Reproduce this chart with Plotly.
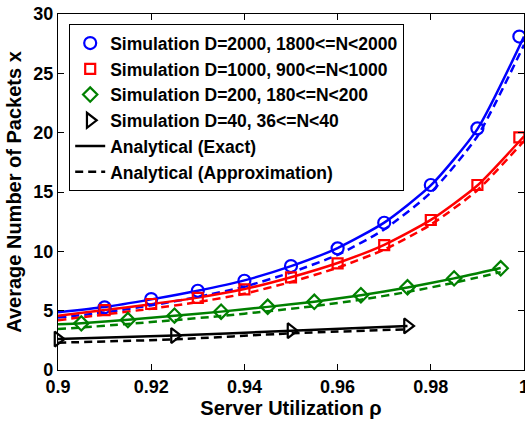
import plotly.graph_objects as go

# ---- data ----
rho_grid = [0.90, 0.91, 0.92, 0.93, 0.94, 0.95, 0.96, 0.97, 0.98, 0.99, 1.00]
rho_sim_blue = [0.91, 0.92, 0.93, 0.94, 0.95, 0.96, 0.97, 0.98, 0.99, 0.999]
sim_blue = [5.28, 5.98, 6.68, 7.52, 8.76, 10.25, 12.41, 15.59, 20.36, 28.1]
exact_blue = [4.86, 5.30, 5.95, 6.68, 7.55, 8.75, 10.28, 12.42, 15.55, 20.3, 28.1]
approx_blue = [4.42, 4.85, 5.45, 6.15, 7.02, 8.22, 9.70, 11.85, 14.95, 19.7, 27.4]

rho_sim_red = [0.91, 0.92, 0.93, 0.94, 0.95, 0.96, 0.97, 0.98, 0.99, 0.999]
sim_red = [5.05, 5.56, 6.07, 6.80, 7.81, 8.99, 10.53, 12.64, 15.59, 19.6]
exact_red = [4.58, 5.05, 5.55, 6.10, 6.82, 7.82, 9.02, 10.55, 12.65, 15.55, 19.7]
approx_red = [4.20, 4.68, 5.17, 5.72, 6.43, 7.42, 8.62, 10.15, 12.25, 15.15, 19.3]

rho_green = [0.900, 0.905, 0.915, 0.925, 0.935, 0.945, 0.955, 0.965, 0.975, 0.985, 0.995]
rho_sim_green = [0.905, 0.915, 0.925, 0.935, 0.945, 0.955, 0.965, 0.975, 0.985, 0.995]
sim_green = [3.93, 4.21, 4.58, 4.91, 5.33, 5.75, 6.30, 6.97, 7.72, 8.57]
exact_green = [3.85, 3.95, 4.23, 4.57, 4.92, 5.32, 5.76, 6.30, 6.96, 7.72, 8.60]
approx_green = [3.45, 3.58, 3.88, 4.20, 4.55, 4.95, 5.38, 5.93, 6.58, 7.35, 8.25]

rho_black = [0.900, 0.925, 0.950, 0.975]
sim_black = [2.61, 2.90, 3.31, 3.71]
exact_black = [2.61, 2.90, 3.31, 3.71]
approx_black = [2.30, 2.58, 3.09, 3.43]

x_ticks = [0.90, 0.92, 0.94, 0.96, 0.98, 1.00]
x_ticktext = ["0.9", "0.92", "0.94", "0.96", "0.98", "1"]
y_ticks = [0, 5, 10, 15, 20, 25, 30]

names = ["Simulation D=2000, 1800<=N<2000",
         "Simulation D=1000, 900<=N<1000",
         "Simulation D=200, 180<=N<200",
         "Simulation D=40, 36<=N<40",
         "Analytical (Exact)",
         "Analytical (Approximation)"]

BLUE, RED, GREEN, BLACK = "#0000FF", "#FF0000", "#008000", "#000000"
LW = 2.5
DASH = "8px,5px"

fig = go.Figure()

curves = [
    (rho_grid, exact_blue, approx_blue, BLUE),
    (rho_grid, exact_red, approx_red, RED),
    (rho_green, exact_green, approx_green, GREEN),
    (rho_black, exact_black, approx_black, BLACK),
]
for xs, ex, ap, c in curves:
    fig.add_trace(go.Scatter(x=xs, y=ap, mode="lines", showlegend=False,
                             line=dict(color=c, width=LW, dash=DASH, shape="spline", smoothing=0.6)))
    fig.add_trace(go.Scatter(x=xs, y=ex, mode="lines", showlegend=False,
                             line=dict(color=c, width=LW, shape="spline", smoothing=0.6)))

sims = [
    (rho_sim_blue, sim_blue, BLUE, "circle-open", 12, names[0]),
    (rho_sim_red, sim_red, RED, "square-open", 10, names[1]),
    (rho_sim_green, sim_green, GREEN, "diamond-open", 11, names[2]),
    (rho_black, sim_black, BLACK, "triangle-right-open", 13, names[3]),
]
for xs, ys, c, sym, sz, nm in sims:
    fig.add_trace(go.Scatter(x=xs, y=ys, mode="markers", name=nm, cliponaxis=False,
                             marker=dict(symbol=sym, size=sz, color=c,
                                         line=dict(color=c, width=2.2))))

fig.add_trace(go.Scatter(x=[None], y=[None], mode="lines", name=names[4],
                         line=dict(color=BLACK, width=LW)))
fig.add_trace(go.Scatter(x=[None], y=[None], mode="lines", name=names[5],
                         line=dict(color=BLACK, width=LW, dash=DASH)))

FONT = "Liberation Sans, Arial, Helvetica, sans-serif"
axis_common = dict(showgrid=False, zeroline=False, showline=True, linecolor="black",
                   linewidth=1.2, mirror="ticks", ticks="inside", ticklen=6,
                   tickcolor="black", tickwidth=1.2, automargin=False,
                   tickfont=dict(family=FONT, size=18, color="black", weight="bold"))

fig.update_layout(
    width=525, height=422,
    margin=dict(l=58, r=1, t=14, b=52, autoexpand=False),
    paper_bgcolor="white", plot_bgcolor="white",
    font=dict(family=FONT, color="black"),
    xaxis=dict(range=[0.9, 1.0], tickvals=x_ticks, ticktext=x_ticktext,
               ticklabeloverflow="allow",
               title=dict(text="Server Utilization ρ", standoff=4,
                          font=dict(family=FONT, size=20, color="black", weight="bold")),
               **axis_common),
    yaxis=dict(range=[0, 30], tickvals=y_ticks,
               title=dict(text="Average Number of Packets x", standoff=6,
                          font=dict(family=FONT, size=20, color="black", weight="bold")),
               **axis_common),
    legend=dict(x=0.0236, y=0.972, xanchor="left", yanchor="top",
                bgcolor="white", bordercolor="black", borderwidth=1.2,
                font=dict(family=FONT, size=17.5, color="black", weight="bold"),
                traceorder="normal", tracegroupgap=0),
)

fig.write_html("out.html", config={"displayModeBar": False},
               post_script="document.body.style.margin='0';")
